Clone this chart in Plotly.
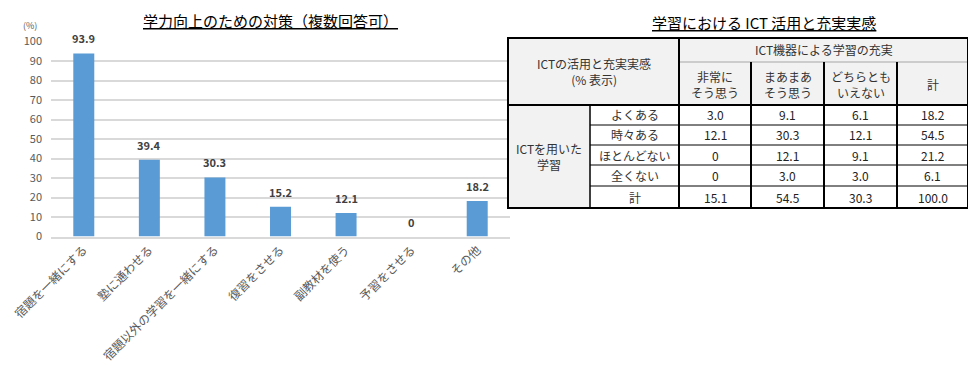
import plotly.graph_objects as go

# ---------------- data ----------------
categories = ["宿題を一緒にする", "塾に通わせる", "宿題以外の学習を一緒にする",
              "復習をさせる", "副教材を使う", "予習をさせる", "その他"]
values = [93.9, 39.4, 30.3, 15.2, 12.1, 0, 18.2]
y_ticks = [0, 10, 20, 30, 40, 50, 60, 70, 80, 90, 100]

chart_title = "学力向上のための対策（複数回答可）"
table_title = "学習における ICT 活用と充実実感"

corner_header = "ICTの活用と充実実感<br>(% 表示)"
group_header = "ICT機器による学習の充実"
col_labels = ["非常に<br>そう思う", "まあまあ<br>そう思う", "どちらとも<br>いえない", "計"]
row_group = "ICTを用いた<br>学習"
row_labels = ["よくある", "時々ある", "ほとんどない", "全くない", "計"]
table_values = [
    [3.0, 9.1, 6.1, 18.2],
    [12.1, 30.3, 12.1, 54.5],
    [0, 12.1, 9.1, 21.2],
    [0, 3.0, 3.0, 6.1],
    [15.1, 54.5, 30.3, 100.0],
]

# ---------------- layout helpers (window pixels -> paper) ----------------
OFF = 8  # page body margin
W, H = 976 - OFF, 384 - OFF
FONT = "Noto Sans CJK JP"


def px(x):
    return (x - OFF) / W


def py(y):
    return 1 - (y - OFF) / H


BAR_COLOR = "#5b9bd5"
TEXT_DARK = "#404040"
TEXT_GRAY = "#595959"

fig = go.Figure()
fig.add_trace(go.Bar(
    x=categories, y=values, marker_color=BAR_COLOR, marker_line_width=0,
    hoverinfo="skip", showlegend=False,
))

annotations = []
# data labels
for c, v in zip(categories, values):
    annotations.append(dict(
        x=c, y=v, xref="x", yref="y", text=f"{v:g}" if v == 0 else f"{v:.1f}",
        showarrow=False, yanchor="bottom", yshift=5,
        font=dict(family=FONT, size=11, color=TEXT_DARK, weight="bold"),
    ))

# chart title and unit
annotations.append(dict(
    x=px(270), y=py(21), xref="paper", yref="paper", text=f"<u>{chart_title}</u>",
    showarrow=False, xanchor="center", yanchor="middle",
    font=dict(family=FONT, size=15, color="#000000"),
))
annotations.append(dict(
    x=px(30), y=py(26), xref="paper", yref="paper", text="(%)",
    showarrow=False, xanchor="center", yanchor="middle",
    font=dict(family=FONT, size=9, color=TEXT_GRAY),
))

# ---------------- table ----------------
col_x = [508, 590, 679, 751, 824, 897, 968]
row_y = [38, 62, 105, 125, 145, 165, 186, 208]

shapes = []


def rect(x0, y0, x1, y1, fill):
    shapes.append(dict(type="rect", xref="paper", yref="paper",
                       x0=px(x0), x1=px(x1), y0=py(y1), y1=py(y0),
                       fillcolor=fill, line=dict(width=0), layer="above"))


def line(x0, y0, x1, y1, color="#000000", width=2):
    shapes.append(dict(type="line", xref="paper", yref="paper",
                       x0=px(x0), x1=px(x1), y0=py(y0), y1=py(y1),
                       line=dict(color=color, width=width), layer="above"))


def text(x, y, s, size=12, color="#333333"):
    annotations.append(dict(
        x=px(x), y=py(y), xref="paper", yref="paper", text=s, showarrow=False,
        xanchor="center", yanchor="middle",
        font=dict(family=FONT, size=size, color=color),
    ))


# backgrounds
rect(col_x[0], row_y[0], col_x[-1], row_y[-1], "#ffffff")
rect(col_x[0], row_y[0], col_x[-1], row_y[2], "#f2f2f2")
rect(col_x[0], row_y[2], col_x[1], row_y[-1], "#f2f2f2")

# thin lines
line(col_x[2], row_y[1], col_x[-1], row_y[1], "#a6a6a6", 1)
for yy in row_y[3:-1]:
    line(col_x[1], yy, col_x[-1], yy, "#000000", 1)
line(col_x[1], row_y[2], col_x[1], row_y[-1], "#000000", 1.5)
# thick lines
for xx in col_x[3:-1]:
    line(xx, row_y[1], xx, row_y[-1], "#000000", 2)
line(col_x[2], row_y[0], col_x[2], row_y[-1], "#000000", 2)
line(col_x[0], row_y[2], col_x[-1], row_y[2], "#000000", 2)
shapes.append(dict(type="rect", xref="paper", yref="paper",
                   x0=px(col_x[0]), x1=px(col_x[-1]), y0=py(row_y[-1]), y1=py(row_y[0]),
                   line=dict(color="#000000", width=2), fillcolor="rgba(0,0,0,0)",
                   layer="above"))

# header texts
text((col_x[0] + col_x[2]) / 2, (row_y[0] + row_y[2]) / 2, corner_header)
text((col_x[2] + col_x[-1]) / 2, (row_y[0] + row_y[1]) / 2, group_header)
for i, lab in enumerate(col_labels):
    text((col_x[2 + i] + col_x[3 + i]) / 2, (row_y[1] + row_y[2]) / 2 + 1, lab)

# body texts
text((col_x[0] + col_x[1]) / 2, (row_y[2] + row_y[-1]) / 2, row_group)
for r, lab in enumerate(row_labels):
    yc = (row_y[2 + r] + row_y[3 + r]) / 2
    text((col_x[1] + col_x[2]) / 2, yc, lab)
    for c, v in enumerate(table_values[r]):
        s = "0" if v == 0 else f"{v:.1f}"
        text((col_x[2 + c] + col_x[3 + c]) / 2, yc, s, size=12, color="#222222")

text(764, 23, f"<u>{table_title}</u>", size=15, color="#000000")

fig.update_layout(
    template="none",
    width=W, height=H,
    margin=dict(l=0, r=0, t=0, b=0, pad=0, autoexpand=False),
    paper_bgcolor="#ffffff", plot_bgcolor="#ffffff",
    bargap=0.68,
    font=dict(family=FONT, color=TEXT_GRAY),
    xaxis=dict(
        domain=[px(51), px(510)], tickangle=-45, showgrid=False, automargin=False,
        showline=True, linecolor="#d9d9d9", linewidth=1.5,
        ticks="", tickfont=dict(family=FONT, size=12, color=TEXT_GRAY),
        fixedrange=True,
    ),
    yaxis=dict(
        domain=[py(236.5), py(41.5)], range=[0, 100], tickvals=y_ticks,
        automargin=False,
        showgrid=True, gridcolor="#d9d9d9", gridwidth=1.5, zeroline=False,
        showline=False, ticks="", ticklabelstandoff=8,
        tickfont=dict(family=FONT, size=11, color=TEXT_GRAY),
        fixedrange=True,
    ),
    annotations=annotations,
    shapes=shapes,
)

fig.write_html("out.html")
